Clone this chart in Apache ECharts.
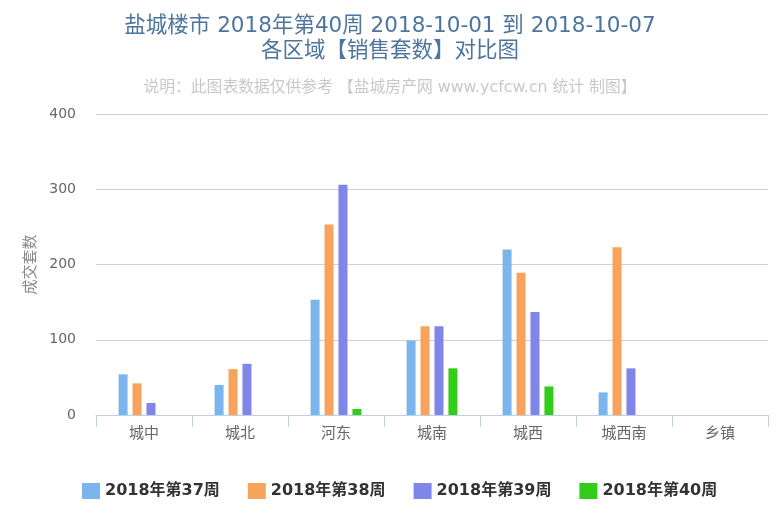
<!DOCTYPE html>
<html>
<head>
<meta charset="utf-8">
<script src="https://cdn.jsdelivr.net/npm/echarts@6/dist/echarts.min.js"></script>
<style>
html, body { margin: 0; padding: 0; background: #fff; }
#main { width: 780px; height: 520px; }
</style>
</head>
<body>
<div id="main"></div>
<script>
// 各区域
var areas = ['城中', '城北', '河东', '城南', '城西', '城西南', '乡镇'];
var weekNames = ['2018年第37周', '2018年第38周', '2018年第39周', '2018年第40周'];
// 销售套数
var week37 = [54, 40, 153, 99, 220, 30, 0];
var week38 = [42, 61, 253, 118, 189, 223, 0];
var week39 = [16, 68, 306, 118, 137, 62, 0];
var week40 = [0, 0, 8, 62, 38, 0, 0];
var colors = ['#7cb5ec', '#f7a35c', '#8085e9', '#33cc19'];
var yTicks = [0, 100, 200, 300, 400];

var cjk = '"DejaVu Sans", "Noto Sans CJK SC", sans-serif';
var myChart = echarts.init(document.getElementById('main'));

function makeSeries(name, data, i) {
	return {
		name: name,
		type: 'bar',
		data: data,
		barWidth: 9,
		barGap: '55%',
		itemStyle: { color: colors[i] },
		emphasis: { disabled: true }
	};
}

option = {
	animation: false,
	textStyle: { fontFamily: cjk },
	title: [
		{
			text: '盐城楼市 2018年第40周 2018-10-01 到 2018-10-07\n各区域【销售套数】对比图',
			left: 'center',
			top: 9,
			textStyle: { fontFamily: cjk, fontSize: 21.5, fontWeight: 'normal', color: '#4d759e', lineHeight: 25 }
		},
		{
			text: '说明：此图表数据仅供参考 【盐城房产网 www.ycfcw.cn 统计 制图】',
			left: 'center',
			top: 75,
			textStyle: { fontFamily: cjk, fontSize: 15.8, fontWeight: 'normal', color: '#c8c8c8' }
		}
	],
	legend: {
		bottom: 16,
		left: 77,
		itemWidth: 18,
		itemHeight: 16,
		itemGap: 28,
		icon: 'rect',
		textStyle: { fontFamily: cjk, fontSize: 16, fontWeight: 'bold', color: '#333' },
		data: weekNames
	},
	grid: { left: 96, right: 12, top: 114, bottom: 105 },
	xAxis: {
		type: 'category',
		data: areas,
		axisLine: { lineStyle: { color: '#c0d0e0' } },
		axisTick: { show: true, alignWithLabel: false, length: 12, lineStyle: { color: '#c0d0e0' } },
		axisLabel: { color: '#666', fontSize: 15, margin: 12 }
	},
	yAxis: {
		type: 'value',
		min: yTicks[0],
		max: yTicks[yTicks.length - 1],
		interval: 100,
		name: '成交套数',
		nameLocation: 'middle',
		nameGap: 53,
		nameTextStyle: { color: '#888', fontSize: 15 },
		axisLine: { show: false },
		axisTick: { show: false },
		axisLabel: { color: '#666', fontSize: 14, margin: 20 },
		splitLine: { lineStyle: { color: '#d0d0d0' } }
	},
	series: [
		makeSeries(weekNames[0], week37, 0),
		makeSeries(weekNames[1], week38, 1),
		makeSeries(weekNames[2], week39, 2),
		makeSeries(weekNames[3], week40, 3)
	]
};
myChart.setOption(option);
</script>
</body>
</html>
